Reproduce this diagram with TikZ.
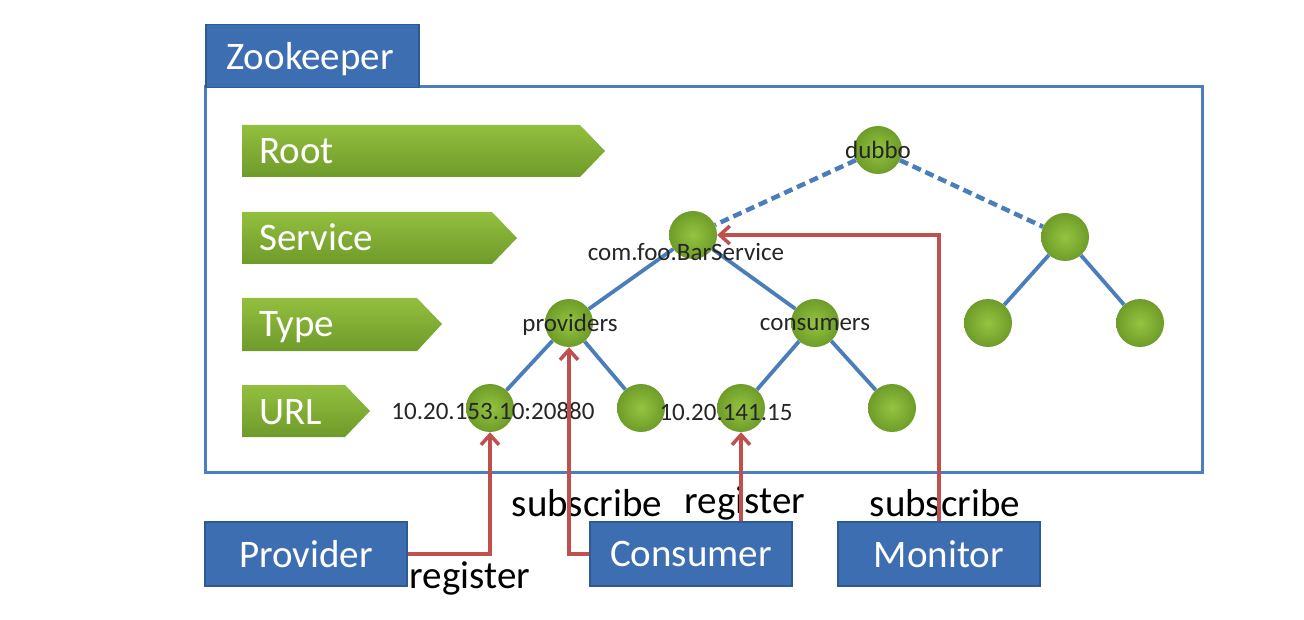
\documentclass[tikz,border=0pt]{standalone}
\usepackage{fontspec}
\setmainfont{Carlito}
\usetikzlibrary{arrows.meta}
\definecolor{zkblue}{HTML}{3E6EB2}
\definecolor{zkedge}{HTML}{2E5A92}
\definecolor{boxline}{HTML}{4A7EC0}
\definecolor{treeblue}{HTML}{4A7EBB}
\definecolor{gtop}{HTML}{93BF3F}
\definecolor{gbot}{HTML}{6E9A2A}
\definecolor{ballin}{HTML}{94C440}
\definecolor{ballout}{HTML}{6E9C29}
\definecolor{arrred}{HTML}{C0504D}
\begin{document}
\begin{tikzpicture}[x=1pt,y=-1pt,
  bigtext/.style={font=\fontsize{39}{44}\selectfont},
  smalltext/.style={font=\fontsize{25}{30}\selectfont, text=black!85, inner sep=0},
  bluebox/.style={draw=zkedge, line width=1.5pt, fill=zkblue, text=white, bigtext, minimum width=202pt, minimum height=64pt, inner sep=0},
  ball/.style={circle, minimum size=48pt, inner sep=0, inner color=ballin, outer color=ballout},
  treeline/.style={treeblue, line width=3.8pt},
  dashline/.style={treeblue, line width=4.5pt, dash pattern=on 9pt off 5pt},
  redarrow/.style={arrred, line width=3.5pt, -{Straight Barb[length=10pt,width=18pt,line width=3.5pt]}},
  chevron/.style={top color=gtop, bottom color=gbot, draw=none},
  chevtext/.style={bigtext, text=white, anchor=base west, inner sep=0},
  actlabel/.style={bigtext, text=black, inner sep=0}
]
\useasboundingbox (0,0) rectangle (1304,620);
\fill[white] (0,0) rectangle (1304,620);

% Zookeeper container
\draw[boxline, line width=3pt, fill=white] (205,87) rectangle (1202,472);
\node[draw=zkedge, line width=1.5pt, fill=zkblue, minimum width=213pt, minimum height=63pt, inner sep=0, anchor=north west] (tab) at (205,24) {};
\node[chevtext] (zk) at (226,70) {Zookeeper};

% Level chevrons
\shade[chevron] (242,125) -- (580,125) -- (605,151) -- (580,177) -- (242,177) -- cycle;
\shade[chevron] (242,212) -- (492,212) -- (517,238) -- (492,264) -- (242,264) -- cycle;
\shade[chevron] (242,298) -- (417,298) -- (442,324) -- (417,351) -- (242,351) -- cycle;
\shade[chevron] (242,385) -- (345,385) -- (370,411) -- (345,437) -- (242,437) -- cycle;
\node[chevtext] (lroot) at (259,164) {Root};
\node[chevtext] (lsvc) at (259,251) {Service};
\node[chevtext] (ltype) at (259,337) {Type};
\node[chevtext] (lurl) at (259,424) {URL};

% Tree nodes
\node[ball] (dubbo) at (878,150) {};
\node[ball] (svc) at (693,235) {};
\node[ball] (svc2) at (1065,237) {};
\node[ball] (prov) at (569,323) {};
\node[ball] (cons) at (815,323) {};
\node[ball] (leafa) at (988,323) {};
\node[ball] (leafb) at (1140,323) {};
\node[ball] (u1) at (490,408) {};
\node[ball] (u2) at (641,408) {};
\node[ball] (u3) at (741,408) {};
\node[ball] (u4) at (892,408) {};

% Tree edges
\draw[dashline] (dubbo) -- (svc);
\draw[dashline] (dubbo) -- (svc2);
\draw[treeline] (svc) -- (prov);
\draw[treeline] (svc) -- (cons);
\draw[treeline] (prov) -- (u1);
\draw[treeline] (prov) -- (u2);
\draw[treeline] (cons) -- (u3);
\draw[treeline] (cons) -- (u4);
\draw[treeline] (svc2) -- (leafa);
\draw[treeline] (svc2) -- (leafb);

% Tree labels
\node[smalltext] (tdubbo) at (878,150) {dubbo};
\node[smalltext] (tsvc) at (686,252) {com.foo.BarService};
\node[smalltext] (tprov) at (570,325) {providers};
\node[smalltext] (tcons) at (815,325) {consumers};
\node[smalltext] (tu1) at (493,411) {10.20.153.10:20880};
\node[smalltext] (tu3) at (726,412) {10.20.141.15};

% Actors
\node[bluebox] (provider) at (306,554) {Provider};
\node[bluebox] (consumer) at (691,554) {Consumer};
\node[bluebox] (monitor) at (939,554) {Monitor};

% Action labels
\node[actlabel] (lreg1) at (470,578) {register};
\node[actlabel] (lsub1) at (587,503) {subscribe};
\node[actlabel] (lreg2) at (745,503) {register};
\node[actlabel] (lsub2) at (945,503) {subscribe};

% Red arrows
\coordinate (c3) at (consumer.north -| u3.south);
\draw[redarrow] (provider.east) -| (u1.south);
\draw[redarrow] (consumer.west) -| (prov.south);
\draw[redarrow] (c3) -- (u3.south);
\draw[redarrow] (monitor.north) |- (svc.east);
\end{tikzpicture}
\end{document}
